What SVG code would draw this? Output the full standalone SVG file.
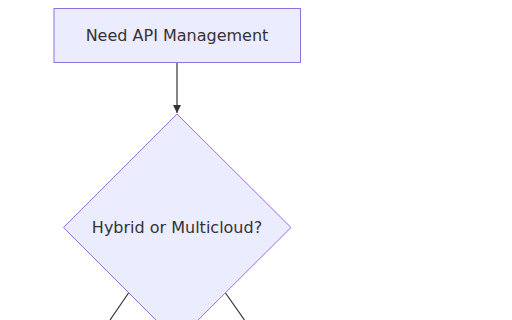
<svg xmlns="http://www.w3.org/2000/svg" width="512" height="320" viewBox="0 0 512 320">
<style>
.node{fill:#ECECFF;stroke:#9370DB;stroke-width:1}
.lbl{font-family:"DejaVu Sans",sans-serif;font-size:16px;fill:#333;text-anchor:middle;dominant-baseline:central}
.edge{stroke:#333;stroke-width:1.2;fill:none}
</style>
<defs>
<marker id="arr" viewBox="0 0 10 10" refX="10" refY="5" markerWidth="8" markerHeight="8" markerUnits="userSpaceOnUse" orient="auto">
<path d="M0,0 L10,5 L0,10 z" fill="#333"/>
</marker>
</defs>
<rect width="512" height="320" fill="#fff"/>
<g id="edges">
<path class="edge" d="M177,63 L177,113" marker-end="url(#arr)"/>
<path class="edge" d="M128.5,293 L110,320"/>
<path class="edge" d="M225.5,293 L244.5,320"/>
</g>
<g id="A">
<rect class="node" x="54" y="8.5" width="246.5" height="54"/>
<text class="lbl" x="177" y="35.5">Need API Management</text>
</g>
<g id="B">
<polygon class="node" points="177,114 291,227.5 177,341 63.5,227.5"/>
<text class="lbl" x="177" y="227.5">Hybrid or Multicloud?</text>
</g>
</svg>
